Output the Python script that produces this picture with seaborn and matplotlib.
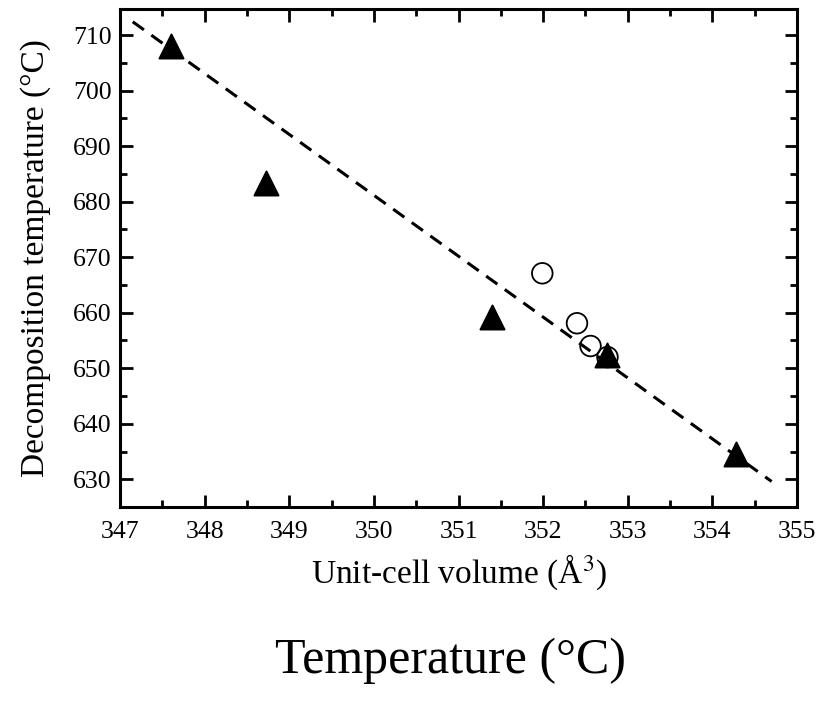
import matplotlib.pyplot as plt
import numpy as np
import pandas as pd
import seaborn as sb
from matplotlib.ticker import MultipleLocator

sb.set_style('ticks')
plt.rcParams['font.family'] = ['Liberation Serif', 'DejaVu Serif']
plt.rcParams['mathtext.fontset'] = 'stix'
plt.rcParams['text.color'] = 'black'
plt.rcParams['axes.labelcolor'] = 'black'
plt.rcParams['xtick.color'] = 'black'
plt.rcParams['ytick.color'] = 'black'
plt.rcParams['axes.edgecolor'] = 'black'

# triangles (filled)
tri_vol = [347.6, 348.72, 351.4, 352.76, 354.28]
tri_temp = [708, 683.3, 659.3, 652.3, 634.6]
# circles (open)
circ_vol = [351.99, 352.4, 352.56, 352.76]
circ_temp = [667.1, 658.1, 654, 652]
# dashed fit line
fit_vol = [347.15, 354.7]
fit_temp = [712.4, 629.6]

fig = plt.figure(figsize=(8.29, 7.04), dpi=100)
ax = fig.add_axes([0.1448, 0.2798, 0.8166, 0.7074])

sb.lineplot(x=fit_vol, y=fit_temp, ax=ax, color='black', linestyle=(0, (4.5, 3)), linewidth=2.2)
sb.scatterplot(x=circ_vol, y=circ_temp, ax=ax, marker='o', s=220, facecolor='none',
               edgecolor='black', linewidth=1.3)
sb.scatterplot(x=tri_vol, y=tri_temp, ax=ax, marker='^', s=300, color='black', edgecolor='black')

ax.set_xlim(347, 355)
ax.set_ylim(625, 714.7)
ax.xaxis.set_major_locator(MultipleLocator(1))
ax.xaxis.set_minor_locator(MultipleLocator(0.5))
ax.yaxis.set_major_locator(MultipleLocator(10))
ax.yaxis.set_minor_locator(MultipleLocator(5))
ax.tick_params(which='both', direction='in', top=True, right=True, width=2, labelsize=18.5)
ax.tick_params(which='major', length=9)
ax.tick_params(which='minor', length=5)
ax.tick_params(axis='x', which='major', pad=10)
ax.tick_params(axis='y', which='major', pad=6)
for s in ax.spines.values():
    s.set_linewidth(2.2)

ax.set_xlabel('Unit-cell volume (Å$^3$)', fontsize=24, labelpad=7)
ax.set_ylabel('Decomposition temperature (°C)', fontsize=24, labelpad=16)

fig.text(0.543, 0.062, 'Temperature (°C)', fontsize=36, ha='center', va='center')

plt.savefig('out.png', dpi=100)
